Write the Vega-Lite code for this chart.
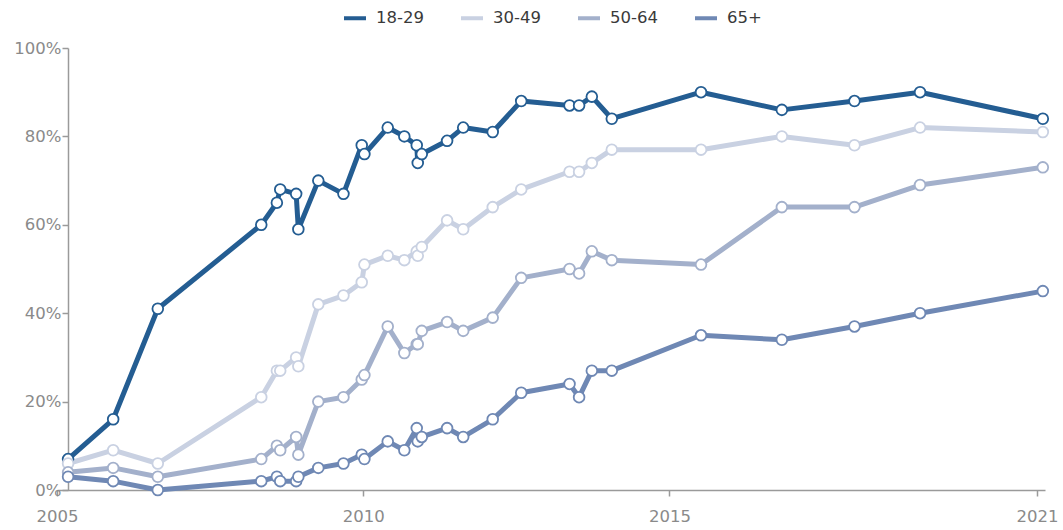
{
  "$schema": "https://vega.github.io/schema/vega-lite/v6.json",
  "autosize": "none",
  "width": 988,
  "height": 442,
  "padding": {"left": 57, "top": 48, "right": 18, "bottom": 40},
  "background": "white",
  "config": {
    "view": {"stroke": null},
    "font": "DejaVu Sans",
    "axis": {"labelFont": "DejaVu Sans", "labelFontSize": 16.5, "labelColor": "#8a8a8a", "domainColor": "#9a9a9a", "tickColor": "#9a9a9a", "domainWidth": 1.5, "tickWidth": 1.5, "grid": false, "title": null},
    "legend": {"labelFont": "DejaVu Sans", "labelFontSize": 16.5, "labelColor": "#3a3a3a"}
  },
  "data": {"values": [
    {"date": "2005-03-08", "group": "18-29", "value": 7},
    {"date": "2005-12-02", "group": "18-29", "value": 16},
    {"date": "2006-08-25", "group": "18-29", "value": 41},
    {"date": "2008-05-03", "group": "18-29", "value": 60},
    {"date": "2008-08-04", "group": "18-29", "value": 65},
    {"date": "2008-08-24", "group": "18-29", "value": 68},
    {"date": "2008-11-27", "group": "18-29", "value": 67},
    {"date": "2008-12-10", "group": "18-29", "value": 59},
    {"date": "2009-04-08", "group": "18-29", "value": 70},
    {"date": "2009-09-05", "group": "18-29", "value": 67},
    {"date": "2009-12-23", "group": "18-29", "value": 78},
    {"date": "2010-01-08", "group": "18-29", "value": 76},
    {"date": "2010-05-27", "group": "18-29", "value": 82},
    {"date": "2010-09-03", "group": "18-29", "value": 80},
    {"date": "2010-11-16", "group": "18-29", "value": 78},
    {"date": "2010-11-22", "group": "18-29", "value": 74},
    {"date": "2010-12-16", "group": "18-29", "value": 76},
    {"date": "2011-05-16", "group": "18-29", "value": 79},
    {"date": "2011-08-20", "group": "18-29", "value": 82},
    {"date": "2012-02-12", "group": "18-29", "value": 81},
    {"date": "2012-07-31", "group": "18-29", "value": 88},
    {"date": "2013-05-15", "group": "18-29", "value": 87},
    {"date": "2013-07-11", "group": "18-29", "value": 87},
    {"date": "2013-09-25", "group": "18-29", "value": 89},
    {"date": "2014-01-22", "group": "18-29", "value": 84},
    {"date": "2015-07-08", "group": "18-29", "value": 90},
    {"date": "2016-11-01", "group": "18-29", "value": 86},
    {"date": "2018-01-08", "group": "18-29", "value": 88},
    {"date": "2019-02-03", "group": "18-29", "value": 90},
    {"date": "2021-02-04", "group": "18-29", "value": 84},

    {"date": "2005-03-08", "group": "30-49", "value": 6},
    {"date": "2005-12-02", "group": "30-49", "value": 9},
    {"date": "2006-08-25", "group": "30-49", "value": 6},
    {"date": "2008-05-03", "group": "30-49", "value": 21},
    {"date": "2008-08-04", "group": "30-49", "value": 27},
    {"date": "2008-08-24", "group": "30-49", "value": 27},
    {"date": "2008-11-27", "group": "30-49", "value": 30},
    {"date": "2008-12-10", "group": "30-49", "value": 28},
    {"date": "2009-04-08", "group": "30-49", "value": 42},
    {"date": "2009-09-05", "group": "30-49", "value": 44},
    {"date": "2009-12-23", "group": "30-49", "value": 47},
    {"date": "2010-01-08", "group": "30-49", "value": 51},
    {"date": "2010-05-27", "group": "30-49", "value": 53},
    {"date": "2010-09-03", "group": "30-49", "value": 52},
    {"date": "2010-11-16", "group": "30-49", "value": 54},
    {"date": "2010-11-22", "group": "30-49", "value": 53},
    {"date": "2010-12-16", "group": "30-49", "value": 55},
    {"date": "2011-05-16", "group": "30-49", "value": 61},
    {"date": "2011-08-20", "group": "30-49", "value": 59},
    {"date": "2012-02-12", "group": "30-49", "value": 64},
    {"date": "2012-07-31", "group": "30-49", "value": 68},
    {"date": "2013-05-15", "group": "30-49", "value": 72},
    {"date": "2013-07-11", "group": "30-49", "value": 72},
    {"date": "2013-09-25", "group": "30-49", "value": 74},
    {"date": "2014-01-22", "group": "30-49", "value": 77},
    {"date": "2015-07-08", "group": "30-49", "value": 77},
    {"date": "2016-11-01", "group": "30-49", "value": 80},
    {"date": "2018-01-08", "group": "30-49", "value": 78},
    {"date": "2019-02-03", "group": "30-49", "value": 82},
    {"date": "2021-02-04", "group": "30-49", "value": 81},

    {"date": "2005-03-08", "group": "50-64", "value": 4},
    {"date": "2005-12-02", "group": "50-64", "value": 5},
    {"date": "2006-08-25", "group": "50-64", "value": 3},
    {"date": "2008-05-03", "group": "50-64", "value": 7},
    {"date": "2008-08-04", "group": "50-64", "value": 10},
    {"date": "2008-08-24", "group": "50-64", "value": 9},
    {"date": "2008-11-27", "group": "50-64", "value": 12},
    {"date": "2008-12-10", "group": "50-64", "value": 8},
    {"date": "2009-04-08", "group": "50-64", "value": 20},
    {"date": "2009-09-05", "group": "50-64", "value": 21},
    {"date": "2009-12-23", "group": "50-64", "value": 25},
    {"date": "2010-01-08", "group": "50-64", "value": 26},
    {"date": "2010-05-27", "group": "50-64", "value": 37},
    {"date": "2010-09-03", "group": "50-64", "value": 31},
    {"date": "2010-11-16", "group": "50-64", "value": 33},
    {"date": "2010-11-22", "group": "50-64", "value": 33},
    {"date": "2010-12-16", "group": "50-64", "value": 36},
    {"date": "2011-05-16", "group": "50-64", "value": 38},
    {"date": "2011-08-20", "group": "50-64", "value": 36},
    {"date": "2012-02-12", "group": "50-64", "value": 39},
    {"date": "2012-07-31", "group": "50-64", "value": 48},
    {"date": "2013-05-15", "group": "50-64", "value": 50},
    {"date": "2013-07-11", "group": "50-64", "value": 49},
    {"date": "2013-09-25", "group": "50-64", "value": 54},
    {"date": "2014-01-22", "group": "50-64", "value": 52},
    {"date": "2015-07-08", "group": "50-64", "value": 51},
    {"date": "2016-11-01", "group": "50-64", "value": 64},
    {"date": "2018-01-08", "group": "50-64", "value": 64},
    {"date": "2019-02-03", "group": "50-64", "value": 69},
    {"date": "2021-02-04", "group": "50-64", "value": 73},

    {"date": "2005-03-08", "group": "65+", "value": 3},
    {"date": "2005-12-02", "group": "65+", "value": 2},
    {"date": "2006-08-25", "group": "65+", "value": 0},
    {"date": "2008-05-03", "group": "65+", "value": 2},
    {"date": "2008-08-04", "group": "65+", "value": 3},
    {"date": "2008-08-24", "group": "65+", "value": 2},
    {"date": "2008-11-27", "group": "65+", "value": 2},
    {"date": "2008-12-10", "group": "65+", "value": 3},
    {"date": "2009-04-08", "group": "65+", "value": 5},
    {"date": "2009-09-05", "group": "65+", "value": 6},
    {"date": "2009-12-23", "group": "65+", "value": 8},
    {"date": "2010-01-08", "group": "65+", "value": 7},
    {"date": "2010-05-27", "group": "65+", "value": 11},
    {"date": "2010-09-03", "group": "65+", "value": 9},
    {"date": "2010-11-16", "group": "65+", "value": 14},
    {"date": "2010-11-22", "group": "65+", "value": 11},
    {"date": "2010-12-16", "group": "65+", "value": 12},
    {"date": "2011-05-16", "group": "65+", "value": 14},
    {"date": "2011-08-20", "group": "65+", "value": 12},
    {"date": "2012-02-12", "group": "65+", "value": 16},
    {"date": "2012-07-31", "group": "65+", "value": 22},
    {"date": "2013-05-15", "group": "65+", "value": 24},
    {"date": "2013-07-11", "group": "65+", "value": 21},
    {"date": "2013-09-25", "group": "65+", "value": 27},
    {"date": "2014-01-22", "group": "65+", "value": 27},
    {"date": "2015-07-08", "group": "65+", "value": 35},
    {"date": "2016-11-01", "group": "65+", "value": 34},
    {"date": "2018-01-08", "group": "65+", "value": 37},
    {"date": "2019-02-03", "group": "65+", "value": 40},
    {"date": "2021-02-04", "group": "65+", "value": 45}
  ]},
  "encoding": {
    "x": {
      "field": "date", "type": "temporal",
      "scale": {"type": "utc", "domain": [{"year": 2005, "month": 1, "date": 1, "utc": true}, {"year": 2021, "month": 2, "date": 17, "utc": true}]},
      "axis": {
        "values": [{"year": 2005, "month": 1, "date": 1, "utc": true}, {"year": 2010, "month": 1, "date": 1, "utc": true}, {"year": 2015, "month": 1, "date": 1, "utc": true}, {"year": 2021, "month": 1, "date": 1, "utc": true}],
        "format": "%Y", "tickSize": 6, "labelPadding": 12, "labelFlush": false
      }
    },
    "y": {
      "field": "value", "type": "quantitative",
      "scale": {"domain": [0, 100], "nice": false, "zero": true},
      "axis": {"values": [0, 20, 40, 60, 80, 100], "labelExpr": "datum.value + '%'", "tickSize": 6, "labelPadding": 1, "offset": -11}
    },
    "color": {
      "field": "group", "type": "nominal",
      "scale": {"domain": ["18-29", "30-49", "50-64", "65+"], "range": ["#245d92", "#c9d1e2", "#a3b0cb", "#6f88b4"]},
      "legend": {
        "title": null, "orient": "none", "direction": "horizontal", "columns": 4,
        "legendX": 285, "legendY": -43,
        "symbolType": "stroke", "symbolStrokeWidth": 4, "symbolSize": 484,
        "labelOffset": 8, "columnPadding": 29
      }
    }
  },
  "layer": [
    {"mark": {"type": "line", "strokeWidth": 5, "strokeJoin": "round", "strokeCap": "round"}},
    {"mark": {"type": "point", "shape": "circle", "filled": false, "fill": "white", "fillOpacity": 1, "size": 115, "strokeWidth": 1.8, "opacity": 1}}
  ]
}
